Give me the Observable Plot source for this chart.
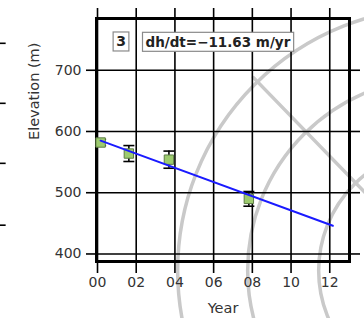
<!DOCTYPE html>
<html>
<head>
<meta charset="utf-8">
<script src="https://cdn.jsdelivr.net/npm/d3@7"></script>
<script src="https://cdn.jsdelivr.net/npm/@observablehq/plot@0.6"></script>
<style>
  html, body { margin: 0; padding: 0; background: white; }
  #chart { width: 364px; height: 318px; overflow: hidden; }
</style>
</head>
<body>
<div id="chart"></div>
<script>
// ---- data ----
const years = [0.16, 1.62, 3.69, 7.82];          // years since 2000
const elevations = [582, 564, 554, 490];         // m
const errors = [5, 13, 14, 12];                  // m (± error bars)
const trendYears = [0.16, 12.16];
const trendElev = [585, 446];
const xTicks = [0, 2, 4, 6, 8, 10, 12];
const yTicks = [400, 500, 600, 700];
const panelNumber = "3";
const rateLabel = "dh/dt=\u221211.63 m/yr";
const xLabel = "Year";
const yLabel = "Elevation (m)";
// background map graticule (decoration): ring centre, ring radii (px), meridian end
const ringCenter = [{x: 17.73, y: 373}];
const ringRadii = [263, 193, 122];
const meridian = [{x: 17.73, y: 373}, {x: 8.06, y: 688}];
// axis ticks of the neighbouring panel peeking in at the left edge
const neighborTicks = [744, 646, 548, 447];

const points = years.map((x, i) => ({x, y: elevations[i], err: errors[i]}));
const trend = trendYears.map((x, i) => ({x, y: trendElev[i]}));

const capSymbol = {
  draw(ctx, size) {
    const h = Math.sqrt(size / Math.PI);
    ctx.moveTo(-h, 0);
    ctx.lineTo(h, 0);
  }
};

const grey = "#c9c9c9";
const lw = 1.6;

const chart = Plot.plot({
  width: 364,
  height: 318,
  marginLeft: 96,
  marginRight: 15,
  marginTop: 18,
  marginBottom: 57,
  x: {domain: [-0.052, 13.02], label: null},
  y: {domain: [387.7, 784.5], label: null},
  style: {fontFamily: "DejaVu Sans", fontSize: "14px", color: "black", background: "white"},
  marks: [
    // background rings and meridian
    ...ringRadii.map(r => Plot.dot(ringCenter, {x: "x", y: "y", r, fill: "none", stroke: grey, strokeWidth: 3.5})),
    Plot.line(meridian, {x: "x", y: "y", stroke: grey, strokeWidth: 3.5}),
    // neighbour panel ticks
    Plot.ruleY(neighborTicks, {y: d => d, x1: -5.05, x2: -4.72, stroke: "black", strokeWidth: lw}),
    // grid
    Plot.gridX(xTicks, {stroke: "black", strokeOpacity: 1, strokeWidth: lw}),
    Plot.gridY(yTicks, {stroke: "black", strokeOpacity: 1, strokeWidth: lw}),
    // axes
    Plot.axisX(xTicks, {anchor: "bottom", tickSize: 12, tickPadding: 4, strokeWidth: lw,
      tickFormat: d => String(d).padStart(2, "0"), fontSize: 14, label: null}),
    Plot.axisX(xTicks, {anchor: "top", tickSize: 11, strokeWidth: lw, tickFormat: () => "", label: null}),
    Plot.axisY(yTicks, {anchor: "left", tickSize: 10, tickPadding: 5, strokeWidth: lw, fontSize: 14, label: null}),
    Plot.axisY(yTicks, {anchor: "right", tickSize: 10, strokeWidth: lw, tickFormat: () => "", label: null}),
    Plot.frame({stroke: "black", strokeWidth: 3}),
    // axis titles
    Plot.text([xLabel], {text: d => d, frameAnchor: "bottom", dy: 46.5, lineAnchor: "middle", fontSize: 14.5, fill: "#333"}),
    Plot.text([yLabel], {text: d => d, frameAnchor: "left", dx: -62, rotate: -90, lineAnchor: "middle", fontSize: 14.5, fill: "#333"}),
    // error bars
    Plot.ruleX(points, {x: "x", y1: d => d.y - d.err, y2: d => d.y + d.err, stroke: "black", strokeWidth: lw}),
    Plot.dot(points, {x: "x", y: d => d.y - d.err, symbol: capSymbol, r: 5.5, stroke: "black", strokeWidth: lw, fill: "none"}),
    Plot.dot(points, {x: "x", y: d => d.y + d.err, symbol: capSymbol, r: 5.5, stroke: "black", strokeWidth: lw, fill: "none"}),
    // data squares
    Plot.dot(points, {x: "x", y: "y", symbol: "square", r: 5.3, fill: "#9dcb6e", stroke: "#5e7d46", strokeWidth: 1}),
    // trend line
    Plot.line(trend, {x: "x", y: "y", stroke: "#1a1aff", strokeWidth: 2}),
    // annotations
    Plot.text([panelNumber], {text: d => d, frameAnchor: "top-left", dx: 24.5, dy: 23.5, textAnchor: "middle",
      lineAnchor: "middle", fontWeight: "bold", fontSize: 14, fill: "#222"}),
    Plot.text([rateLabel], {text: d => d, frameAnchor: "top-left", dx: 49, dy: 24, textAnchor: "start",
      lineAnchor: "middle", fontWeight: "bold", fontSize: 13.5, fill: "#222"})
  ]
});

document.getElementById("chart").appendChild(chart);

// tick label colour
chart.querySelectorAll('g[aria-label$="tick label"]').forEach(g => g.setAttribute("fill", "#333"));

// boxes behind annotation texts
Array.from(chart.querySelectorAll("text"))
  .filter(t => t.textContent === panelNumber || t.textContent === rateLabel)
  .forEach(t => {
    const b = t.getBBox();
    const padX = 3, padY = 1.5;
    const r = document.createElementNS("http://www.w3.org/2000/svg", "rect");
    r.setAttribute("x", b.x - padX);
    r.setAttribute("y", b.y - padY);
    r.setAttribute("width", b.width + 2 * padX);
    r.setAttribute("height", b.height + 2 * padY);
    r.setAttribute("fill", "white");
    r.setAttribute("stroke", "#8a8a8a");
    r.setAttribute("stroke-width", "1.2");
    const tr = t.getAttribute("transform");
    if (tr) r.setAttribute("transform", tr);
    t.parentNode.insertBefore(r, t);
  });
</script>
</body>
</html>
